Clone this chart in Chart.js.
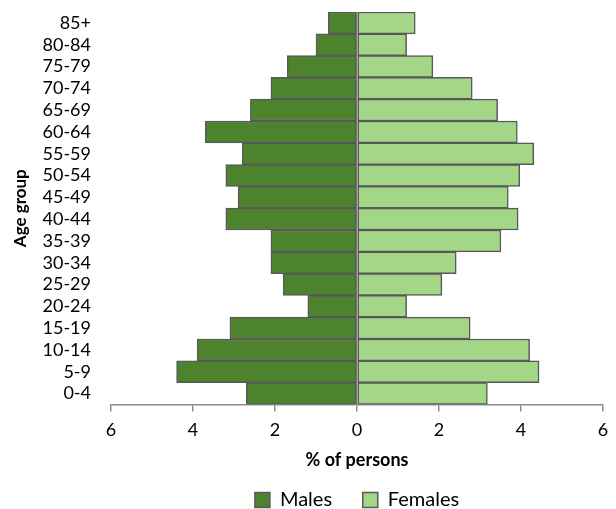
<!DOCTYPE html>
<html>
<head>
<meta charset="utf-8">
<script src="https://cdn.jsdelivr.net/npm/chart.js@4.4.0/dist/chart.umd.min.js"></script>
<style>
  html, body { margin: 0; padding: 0; background: #fff; }
  #wrap { width: 616px; height: 509px; }
</style>
</head>
<body>
<div id="wrap"><canvas id="pyramidChart" width="616" height="509"></canvas></div>
<script>
// age groups, youngest first
const ageGroups = ['0-4', '5-9', '10-14', '15-19', '20-24', '25-29', '30-34', '35-39', '40-44',
  '45-49', '50-54', '55-59', '60-64', '65-69', '70-74', '75-79', '80-84', '85+'];
const malesPct = [2.7, 4.4, 3.9, 3.1, 1.2, 1.8, 2.1, 2.1, 3.2, 2.9, 3.2, 2.8, 3.7, 2.6, 2.1, 1.7, 1.0, 0.7];
const femalesPct = [3.18, 4.44, 4.21, 2.76, 1.21, 2.07, 2.42, 3.51, 3.93, 3.69, 3.97, 4.31, 3.91, 3.43, 2.81, 1.85, 1.21, 1.42];
const xTicks = [-6, -4, -2, 0, 2, 4, 6];

const fontFamily = 'Lato, "Open Sans", sans-serif';
const edgeColor = '#595959';

const ctx = document.getElementById('pyramidChart').getContext('2d');
new Chart(ctx, {
  type: 'bar',
  data: {
    labels: ageGroups,
    datasets: [{
      label: 'Males',
      data: malesPct.map(v => -v),
      backgroundColor: '#4e832e',
      borderColor: edgeColor,
      borderWidth: 1.5,
      borderSkipped: false
    }, {
      label: 'Females',
      data: femalesPct,
      backgroundColor: '#a4d687',
      borderColor: edgeColor,
      borderWidth: 1.5,
      borderSkipped: false
    }]
  },
  options: {
    indexAxis: 'y',
    responsive: false,
    animation: false,
    barPercentage: 1,
    categoryPercentage: 1,
    layout: { padding: { top: 12, right: 0, left: 10, bottom: -11 } },
    scales: {
      x: {
        stacked: true,
        min: -6,
        max: 6,
        afterBuildTicks: axis => { axis.ticks = xTicks.map(v => ({ value: v })); },
        // tick padding also widens the side padding, pull it back
        afterFit: axis => { axis.paddingRight = 13; axis.paddingLeft = 0; },
        ticks: {
          color: '#000',
          font: { family: fontFamily, size: 18, lineHeight: 1 },
          padding: 10,
          callback: v => Math.abs(v)
        },
        grid: {
          drawOnChartArea: true,
          color: c => (c.tick && c.tick.value === 0) ? '#8c8c8c' : 'rgba(0,0,0,0)',
          tickColor: '#8c8c8c',
          tickLength: 7,
          lineWidth: 1.5
        },
        border: { display: true, color: '#8c8c8c', width: 1.5 },
        title: {
          display: true,
          text: '% of persons',
          color: '#000',
          font: { family: fontFamily, size: 18, weight: 'bold' },
          padding: { top: 0, bottom: 19 }
        }
      },
      y: {
        stacked: true,
        reverse: true,
        afterFit: axis => { axis.width = 101; },
        ticks: {
          color: '#000',
          font: { family: fontFamily, size: 18 },
          padding: 0,
          autoSkip: false
        },
        // invisible tick marks just to keep the labels away from the bars
        grid: { display: true, drawOnChartArea: false, drawTicks: true, tickLength: 20, tickColor: 'rgba(0,0,0,0)' },
        border: { display: false },
        title: {
          display: true,
          text: 'Age group',
          color: '#000',
          font: { family: fontFamily, size: 17, weight: 'bold' },
          padding: { top: 0, bottom: 2 }
        }
      }
    },
    plugins: {
      legend: {
        position: 'bottom',
        fullSize: false,
        labels: {
          color: '#000',
          font: { family: fontFamily, size: 20, lineHeight: 1 },
          boxWidth: 15,
          boxHeight: 15,
          padding: 0,
          // trailing spaces on the first entry give the gap between the two
          generateLabels: chart => Chart.defaults.plugins.legend.labels.generateLabels(chart)
            .map((item, i) => Object.assign(item, { text: i === 0 ? item.text + '      ' : item.text }))
        }
      },
      tooltip: { enabled: false }
    }
  }
});
</script>
</body>
</html>
